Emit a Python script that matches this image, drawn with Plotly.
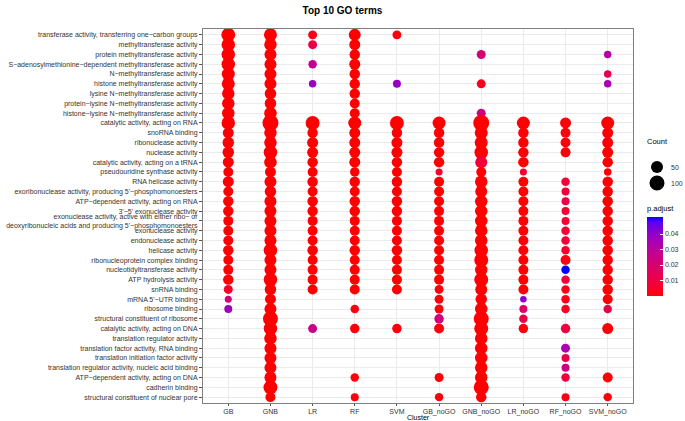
import plotly.graph_objects as go

N = None

clusters = ["GB", "GNB", "LR", "RF", "SVM", "GB_noGO", "GNB_noGO", "LR_noGO", "RF_noGO", "SVM_noGO"]

terms = [
    "transferase activity, transferring one−carbon groups",
    "methyltransferase activity",
    "protein methyltransferase activity",
    "S−adenosylmethionine−dependent methyltransferase activity",
    "N−methyltransferase activity",
    "histone methyltransferase activity",
    "lysine N−methyltransferase activity",
    "protein−lysine N−methyltransferase activity",
    "histone−lysine N−methyltransferase activity",
    "catalytic activity, acting on RNA",
    "snoRNA binding",
    "ribonuclease activity",
    "nuclease activity",
    "catalytic activity, acting on a tRNA",
    "pseudouridine synthase activity",
    "RNA helicase activity",
    "exoribonuclease activity, producing 5'−phosphomonoesters",
    "ATP−dependent activity, acting on RNA",
    "3'−5' exonuclease activity",
    "exonuclease activity, active with either ribo− or\ndeoxyribonucleic acids and producing 5'−phosphomonoesters",
    "exonuclease activity",
    "endonuclease activity",
    "helicase activity",
    "ribonucleoprotein complex binding",
    "nucleotidyltransferase activity",
    "ATP hydrolysis activity",
    "snRNA binding",
    "mRNA 5'−UTR binding",
    "ribosome binding",
    "structural constituent of ribosome",
    "catalytic activity, acting on DNA",
    "translation regulator activity",
    "translation factor activity, RNA binding",
    "translation initiation factor activity",
    "translation regulator activity, nucleic acid binding",
    "ATP−dependent activity, acting on DNA",
    "cadherin binding",
    "structural constituent of nuclear pore",
]

# Gene counts per cluster (None = term not enriched in that cluster), rows follow `terms`
count_GB = [81, 73, 73, 73, 65, 65, 57, 57, 57,
            73, 37, 43, 43, 37, 26, 37, 26, 31, 31, 26, 26, 26, 31, 26, 26, 31, 17, 5, 10,
            N, N, N, N, N, N, N, N, N]
count_GNB = [65, 57, 50, 50, 50, 50, 43, 43, 57,
             120, 57, 57, 73, 57, 37, 50, 43, 50, 50, 50, 50, 50, 73, 50, 50, 73, 43, 37, 50,
             100, 73, 57, 50, 50, 50, 50, 81, 26]
count_LR = [17, 17, N, 13, N, 7, N, N, N,
            81, 31, 37, 37, 31, 26, 31, 26, 31, 31, 26, 26, 26, 31, 26, 26, 26, 26,
            N, N, N, 17, N, N, N, N, N, N, N]
count_RF = [50, 37, 31, 37, 31, 31, 31, 26, 26,
            65, 37, 37, 37, 37, 21, 31, 26, 31, 31, 26, 26, 26, 31, 26, 26, 26, 26,
            N, 13, N, 21, N, N, N, N, 13, N, 10]
count_SVM = [17, N, N, N, N, 10, N, N, N,
             81, 31, 37, 37, 31, 26, 31, 26, 31, 31, 26, 26, 26, 31, 26, 26, 26, 26,
             N, N, N, 21, N, N, N, N, N, N, N]
count_GB_noGO = [N, N, N, N, N, N, N, N, N,
                 65, 31, 31, 31, 31, 5, 26, 26, 26, 26, 26, 26, 26, 26, 26, 26, 26, 17, 17, 17,
                 21, 26, N, N, N, N, 17, N, 13]
count_GNB_noGO = [N, N, 17, N, N, 17, N, N, 17,
                  120, 65, 65, 73, 50, 26, 57, 50, 57, 57, 57, 57, 57, 73, 81, 57, 81, 50, 43, 57,
                  100, 81, 57, 57, 57, 57, 57, 100, 31]
count_LR_noGO = [N, N, N, N, N, N, N, N, N,
                 65, 31, 31, 31, 31, 5, 26, 26, 26, 26, 26, 26, 26, 26, 26, 26, 26, 26, 3, 10,
                 13, 21, N, N, N, N, N, N, N]
count_RF_noGO = [N, N, N, N, N, N, N, N, N,
                 37, 26, 26, 26, N, N, 13, 10, 10, 10, 10, 13, 13, 13, 26, 13, 13, 13, 13, 13,
                 N, 21, N, 17, 10, 10, 13, N, 10]
count_SVM_noGO = [N, N, 7, N, 7, 7, N, N, N,
                  65, 37, 37, 37, 31, 7, 31, 31, 31, 31, 31, 31, 31, 31, 31, 31, 31, 31, 26, 13,
                  N, 37, N, N, N, N, 26, N, 13]

# Adjusted p-values per cluster
t = 0.0002
padj_GB = [t, t, t, t, t, t, t, t, t,
           t, t, t, t, t, t, t, t, t, t, t, t, t, t, t, t, t, 0.004, 0.022, 0.037,
           N, N, N, N, N, N, N, N, N]
padj_GNB = [t] * 38
padj_LR = [0.002, 0.011, N, 0.028, N, 0.038, N, N, N,
           t, t, t, t, t, t, t, t, t, t, t, t, t, t, t, t, t, t,
           N, N, N, 0.025, N, N, N, N, N, N, N]
padj_RF = [t, t, t, t, t, t, t, t, t,
           t, t, t, t, t, t, t, t, t, t, t, t, t, t, t, t, t, t,
           N, 0.001, N, 0.001, N, N, N, N, 0.001, N, 0.001]
padj_SVM = [0.001, N, N, N, N, 0.038, N, N, N,
            t, t, t, t, t, t, t, t, t, t, t, t, t, t, t, t, t, t,
            N, N, N, 0.001, N, N, N, N, N, N, N]
padj_GB_noGO = [N, N, N, N, N, N, N, N, N,
                t, t, t, t, t, 0.006, t, t, t, t, t, t, t, t, t, t, t, 0.001, 0.001, 0.001,
                0.022, 0.001, N, N, N, N, 0.001, N, 0.001]
padj_GNB_noGO = [N, N, 0.022, N, N, 0.003, N, N, 0.024,
                 t, t, t, t, 0.008, t, t, t, t, t, t, t, t, t, t, t, t, t, t, t,
                 t, t, t, t, t, t, t, t, t]
padj_LR_noGO = [N, N, N, N, N, N, N, N, N,
                t, t, t, t, t, 0.006, t, t, t, t, t, t, t, t, t, t, t, t, 0.040, 0.018,
                0.011, 0.001, N, N, N, N, N, N, N]
padj_RF_noGO = [N, N, N, N, N, N, N, N, N,
                0.001, 0.001, 0.001, 0.001, N, N, 0.007, 0.008, 0.011, 0.007, 0.007, 0.007, 0.007,
                0.006, 0.002, 0.051, 0.008, 0.003, 0.003, 0.003,
                N, 0.009, N, 0.034, 0.011, 0.024, 0.009, N, 0.002]
padj_SVM_noGO = [N, N, 0.032, N, 0.012, 0.035, N, N, N,
                 t, t, t, t, t, t, t, t, t, t, t, t, t, t, t, t, t, t, t, 0.010,
                 N, t, N, N, N, N, t, N, t]

counts = [count_GB, count_GNB, count_LR, count_RF, count_SVM,
          count_GB_noGO, count_GNB_noGO, count_LR_noGO, count_RF_noGO, count_SVM_noGO]
padjs = [padj_GB, padj_GNB, padj_LR, padj_RF, padj_SVM,
         padj_GB_noGO, padj_GNB_noGO, padj_LR_noGO, padj_RF_noGO, padj_SVM_noGO]

legend_counts = [50, 100]
p_ticks = [0.01, 0.02, 0.03, 0.04]
P_MIN, P_MAX = 0.0, 0.051


# ---------- scales ----------
def size_of(c):
    return 4.76 + 1.024 * c ** 0.5


def _lin(c):
    return c / 12.92 if c <= 0.04045 else ((c + 0.055) / 1.055) ** 2.4


def _gam(c):
    c = max(0.0, min(1.0, c))
    return 12.92 * c if c <= 0.0031308 else 1.055 * c ** (1 / 2.4) - 0.055


def hex_to_lab(h):
    r, g, b = [_lin(int(h[i:i + 2], 16) / 255) for i in (1, 3, 5)]
    X = 0.4124564 * r + 0.3575761 * g + 0.1804375 * b
    Y = 0.2126729 * r + 0.7151522 * g + 0.0721750 * b
    Z = 0.0193339 * r + 0.1191920 * g + 0.9503041 * b
    f = lambda v: v ** (1 / 3) if v > 0.008856 else 7.787 * v + 16 / 116
    fx, fy, fz = f(X / 0.95047), f(Y), f(Z / 1.08883)
    return 116 * fy - 16, 500 * (fx - fy), 200 * (fy - fz)


def lab_to_hex(L, a, b):
    fy = (L + 16) / 116
    fx = fy + a / 500
    fz = fy - b / 200
    finv = lambda v: v ** 3 if v ** 3 > 0.008856 else (v - 16 / 116) / 7.787
    X, Y, Z = 0.95047 * finv(fx), finv(fy), 1.08883 * finv(fz)
    r = 3.2404542 * X - 1.5371385 * Y - 0.4985314 * Z
    g = -0.9692660 * X + 1.8760108 * Y + 0.0415560 * Z
    bb = 0.0556434 * X - 0.2040259 * Y + 1.0572252 * Z
    return "#%02x%02x%02x" % tuple(int(round(_gam(v) * 255)) for v in (r, g, bb))


lab_lo, lab_hi = hex_to_lab("#FF0000"), hex_to_lab("#0000FF")
colorscale = []
for i in range(21):
    f = i / 20
    colorscale.append([f, lab_to_hex(*[lo + (hi - lo) * f for lo, hi in zip(lab_lo, lab_hi)])])

# ---------- long-form points ----------
xs, ys, ss, cs = [], [], [], []
for cl, cnt, pv in zip(clusters, counts, padjs):
    for term, c, p in zip(terms, cnt, pv):
        if c is None:
            continue
        xs.append(cl)
        ys.append(term.replace("\n", "<br>"))
        ss.append(size_of(c))
        cs.append(p)

term_labels = [tm.replace("\n", "<br>") for tm in terms]

FONT = "Liberation Sans, Arial, sans-serif"
TXT = "#333333"
W, H = 685, 421
L, R, T, B = 203, 633, 29, 403


def px_x(px):
    return (px - L) / (R - L)


def px_y(py):
    return (B - py) / (B - T)


fig = go.Figure()
fig.add_trace(go.Scatter(
    x=xs, y=ys, mode="markers",
    marker=dict(size=ss, sizemode="diameter", color=cs, cmin=P_MIN, cmax=P_MAX,
                colorscale=colorscale, line=dict(width=0), opacity=1,
                colorbar=dict(
                    x=px_x(647.5), xanchor="left",
                    y=px_y(256.5), yanchor="middle",
                    len=79, lenmode="pixels", thickness=16, thicknessmode="pixels",
                    outlinewidth=0, xpad=0, ypad=0,
                    tickvals=p_ticks, ticktext=[f"{v:.2f}" for v in p_ticks],
                    ticks="inside", ticklen=3, tickcolor="white", tickwidth=1,
                    tickfont=dict(family=FONT, size=7, color=TXT),
                )),
    hoverinfo="skip", showlegend=False,
))

axis_common = dict(
    type="category", showgrid=True, gridcolor="#ebebeb", gridwidth=1,
    showline=True, linecolor="#7f7f7f", linewidth=1, mirror=True,
    ticks="outside", tickcolor="#555555", tickwidth=1, automargin=False,
    tickfont=dict(family=FONT, size=7, color=TXT), zeroline=False,
)
fig.update_xaxes(**axis_common, ticklen=1.5, categoryorder="array", categoryarray=clusters,
                 range=[-0.6, len(clusters) - 0.4])
fig.update_yaxes(**axis_common, ticklen=3, categoryorder="array", categoryarray=term_labels,
                 range=[len(terms) - 0.4, -0.6])

annotations = [
    dict(text="Cluster", x=0.5, y=px_y(417.3), xref="paper", yref="paper", showarrow=False,
         font=dict(family=FONT, size=7, color="black"), xanchor="center", yanchor="middle"),
    dict(text="Count", x=px_x(645), y=px_y(141), xref="paper", yref="paper", showarrow=False,
         font=dict(family=FONT, size=7.5, color="black"), xanchor="left", yanchor="middle"),
    dict(text="p.adjust", x=px_x(645), y=px_y(208), xref="paper", yref="paper", showarrow=False,
         font=dict(family=FONT, size=7.5, color="black"), xanchor="left", yanchor="middle"),
]
shapes = []
for c, py in zip(legend_counts, [167, 183]):
    r = size_of(c) / 2
    shapes.append(dict(type="circle", xref="paper", yref="paper", xsizemode="pixel", ysizemode="pixel",
                       xanchor=px_x(657), yanchor=px_y(py), x0=-r, x1=r, y0=-r, y1=r,
                       fillcolor="black", line=dict(width=0)))
    annotations.append(dict(text=str(c), x=px_x(669), y=px_y(py), xref="paper", yref="paper",
                            showarrow=False, font=dict(family=FONT, size=7, color=TXT),
                            xanchor="left", yanchor="middle"))

fig.update_layout(
    width=W, height=H,
    margin=dict(l=L, r=W - R, t=T, b=H - B, pad=0, autoexpand=False),
    paper_bgcolor="white", plot_bgcolor="white",
    title=dict(text="<b>Top 10 GO terms</b>", x=0.5, xref="container", xanchor="center",
               y=1 - 10 / H, yref="container", yanchor="middle",
               font=dict(family=FONT, size=10, color="black")),
    annotations=annotations, shapes=shapes,
)

fig.write_html("out.html", config={"displayModeBar": False},
               post_script="document.body.style.margin='0';document.body.style.overflow='hidden';")
